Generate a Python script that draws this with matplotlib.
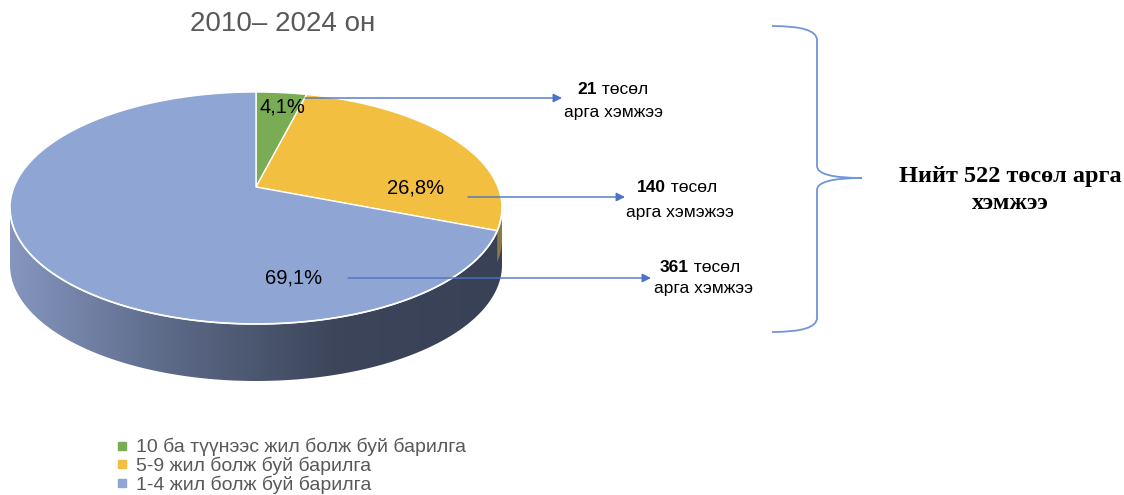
import numpy as np
import matplotlib.pyplot as plt
from matplotlib.path import Path
from matplotlib.patches import PathPatch, Polygon
from matplotlib.lines import Line2D
from matplotlib.colors import LinearSegmentedColormap

# data
categories = ['10 ба түүнээс жил болж буй барилга', '5-9 жил болж буй барилга', '1-4 жил болж буй барилга']
counts = [21, 140, 361]
share_labels = ['4,1%', '26,8%', '69,1%']
count_second_lines = ['арга хэмжээ', 'арга хэмэжээ', 'арга хэмжээ']
total_label = 'Нийт 522 төсөл арга\nхэмжээ'
title = '2010– 2024 он'

colors = ['#79AC55', '#F2BF41', '#8FA6D5']
SANS = ['Liberation Sans', 'DejaVu Sans']
SERIF = ['Liberation Serif', 'DejaVu Serif']

# pie geometry in pixel space
cx, cy = 256.0, 208.0     # ellipse centre of top face
a, b = 246.0, 116.0       # semi axes
apex_y = 187.0            # projected centre (perspective)
depth = 57.0


def rim(phi_deg):
    # point where ray from apex in direction phi hits the top ellipse
    phi = np.radians(phi_deg)
    dx, dy = a * np.cos(phi), -b * np.sin(phi)
    p0y = apex_y - cy
    B = p0y * dy / b**2
    C = p0y**2 / b**2 - 1
    t = -B + np.sqrt(B**2 - C)
    return cx + t * dx, apex_y + t * dy


def ellipse_param(x, y):
    return np.degrees(np.arctan2(-(y - cy) / b, (x - cx) / a))


fig = plt.figure(figsize=(11.24, 4.95), dpi=100)
ax = fig.add_axes([0, 0, 1, 1])
ax.set_xlim(0, 1124)
ax.set_ylim(495, 0)
ax.axis('off')

fracs = np.array(counts) / np.sum(counts)
bounds = 90 - 360 * np.concatenate([[0], np.cumsum(fracs)])

# side wall (front half)
psi = np.linspace(180, 360, 200)
top_x = cx + a * np.cos(np.radians(psi))
top_y = cy - b * np.sin(np.radians(psi))
wall = np.vstack([np.column_stack([top_x, top_y]),
                  np.column_stack([top_x[::-1], top_y[::-1] + depth])])
wall_patch = Polygon(wall, closed=True, facecolor='none', edgecolor='none')
ax.add_patch(wall_patch)
cmap = LinearSegmentedColormap.from_list('wall', ['#8595BE', '#5B6886', '#3C4559', '#384155'])
grad = np.linspace(0, 1, 300).reshape(1, -1)
im = ax.imshow(grad, cmap=cmap, extent=(cx - a, cx + a, cy + b + depth, cy - 5),
               aspect='auto', zorder=1)
im.set_clip_path(wall_patch)
ax.set_xlim(0, 1124)
ax.set_ylim(495, 0)

# yellow sliver of the wall at the right edge
bx, by = rim(bounds[2])
psi_b = ellipse_param(bx, by)
ps = np.linspace(psi_b, 0, 20)
sx = cx + a * np.cos(np.radians(ps))
sy = cy - b * np.sin(np.radians(ps))
sliver = np.vstack([np.column_stack([sx, sy]), np.column_stack([sx[::-1], sy[::-1] + depth * 0.55])])
ax.add_patch(Polygon(sliver, closed=True, facecolor='#8C7A45', edgecolor='none', zorder=1.5))

# top face wedges
for i in range(3):
    phis = np.linspace(bounds[i], bounds[i + 1], 300)
    pts = [rim(p) for p in phis]
    poly = np.vstack([[cx, apex_y], pts])
    ax.add_patch(Polygon(poly, closed=True, facecolor=colors[i], edgecolor='white',
                         lw=1.0, joinstyle='round', zorder=2))

# white rim edge on front
ax.plot(top_x, top_y, color='white', lw=1.2, zorder=2.5)

# percentage labels
pct_pos = [(282, 107), (416, 188), (294, 278)]
for lab, (x, y) in zip(share_labels, pct_pos):
    ax.text(x, y, lab, ha='center', va='center', fontsize=14.5, color='black',
            family=SANS, zorder=4)

# leader arrows
arrows = [((305, 98), (562, 98)), ((468, 197), (625, 197)), ((348, 278), (651, 278))]
for (x0, y0), (x1, y1) in arrows:
    ax.annotate('', xy=(x1, y1), xytext=(x0, y0), zorder=3,
                arrowprops=dict(arrowstyle='-|>', color='#4A72C6', lw=1.0,
                                mutation_scale=13, shrinkA=0, shrinkB=0))

# count annotations
split_x = [597, 666, 689]
line1_y = [90, 188, 267]
line2 = [(614, 112), (680, 212), (704, 289)]
for n, sx_, y1, (x2, y2), l2 in zip(counts, split_x, line1_y, line2, count_second_lines):
    ax.text(sx_, y1, str(n), ha='right', va='center', fontsize=12.5, fontweight='bold',
            family=SANS, color='black')
    ax.text(sx_, y1, ' төсөл', ha='left', va='center', fontsize=12.5, family=SANS, color='black')
    ax.text(x2, y2, l2, ha='center', va='center', fontsize=12.5, family=SANS, color='black')

# brace
verts = [(772, 26), (817, 26), (817, 40), (817, 166), (817, 178), (862, 178),
         (817, 178), (817, 190), (817, 318), (817, 332), (772, 332)]
codes = [Path.MOVETO, Path.CURVE3, Path.CURVE3, Path.LINETO, Path.CURVE3, Path.CURVE3,
         Path.CURVE3, Path.CURVE3, Path.LINETO, Path.CURVE3, Path.CURVE3]
ax.add_patch(PathPatch(Path(verts, codes), facecolor='none', edgecolor='#7096DA', lw=1.3))

ax.text(1010, 190, total_label, ha='center', va='center', fontsize=17.5, fontweight='bold',
        family=SERIF, color='black', linespacing=1.32)

# title
ax.text(283, 24, title, ha='center', va='center', fontsize=20, color='#595959', family=SANS)

# legend
handles = [Line2D([], [], marker='s', ls='none', color=c, markersize=6) for c in colors]
ax.legend(handles, categories, loc='upper left', bbox_to_anchor=(118, 438),
          bbox_transform=ax.transData, frameon=False, handlelength=0.45,
          handletextpad=0.45, labelspacing=0.02, borderpad=0, borderaxespad=0,
          prop={'family': SANS, 'size': 14}, labelcolor='#595959')

fig.savefig('out.png', dpi=100)
